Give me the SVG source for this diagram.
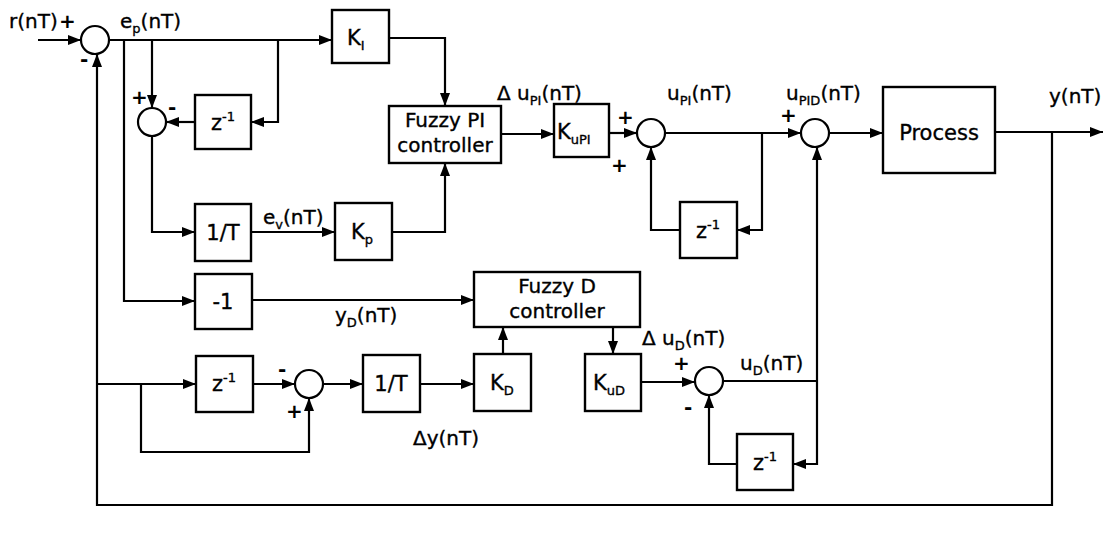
<svg xmlns="http://www.w3.org/2000/svg" width="1110" height="537" viewBox="0 0 1110 537">
<style>
.b{fill:#fff;stroke:#000;stroke-width:2.4}
.s{fill:#fff;stroke:#000;stroke-width:2.2}
.w{fill:none;stroke:#000;stroke-width:2.2}
.t{font-family:"DejaVu Sans",Verdana,sans-serif;font-size:20px;fill:#000;stroke:#000;stroke-width:0.35}
.bl{font-size:21px}
.c{text-anchor:middle}
.sub{font-size:13px}
.pm{font-family:"DejaVu Sans",Verdana,sans-serif;font-size:20px;font-weight:bold;fill:#000}
</style>
<defs>
<marker id="a" markerWidth="13" markerHeight="10" refX="13" refY="5" orient="auto" markerUnits="userSpaceOnUse"><path d="M0,0 L13,5 L0,10 z" fill="#000"/></marker>
</defs>
<rect width="1110" height="537" fill="#fff"/>
<g id="connectors" class="w">
<path d="M38,40 H81" marker-end="url(#a)"/>
<path d="M109,40 H332" marker-end="url(#a)"/>
<path d="M152,40 V108" marker-end="url(#a)"/>
<path d="M278,40 V122 H251" marker-end="url(#a)"/>
<path d="M195,122 H166" marker-end="url(#a)"/>
<path d="M152,136 V232 H195" marker-end="url(#a)"/>
<path d="M251,232 H335" marker-end="url(#a)"/>
<path d="M392,232 H445 V163" marker-end="url(#a)"/>
<path d="M389,38 H445 V106" marker-end="url(#a)"/>
<path d="M501,134 H554" marker-end="url(#a)"/>
<path d="M609,133 H637" marker-end="url(#a)"/>
<path d="M665,133 H801" marker-end="url(#a)"/>
<path d="M762,133 V230 H737" marker-end="url(#a)"/>
<path d="M680,230 H651 V147" marker-end="url(#a)"/>
<path d="M829,133 H883" marker-end="url(#a)"/>
<path d="M995,132 H1103" marker-end="url(#a)"/>
<path d="M1052,132 V505 H97 V54" marker-end="url(#a)"/>
<path d="M124,40 V301 H195" marker-end="url(#a)"/>
<path d="M252,300 H474" marker-end="url(#a)"/>
<path d="M97,384 H196" marker-end="url(#a)"/>
<path d="M141,384 V452 H309 V398" marker-end="url(#a)"/>
<path d="M253,384 H295" marker-end="url(#a)"/>
<path d="M323,384 H363" marker-end="url(#a)"/>
<path d="M420,384 H474" marker-end="url(#a)"/>
<path d="M503,354 V327" marker-end="url(#a)"/>
<path d="M613,327 V354" marker-end="url(#a)"/>
<path d="M641,382 H695" marker-end="url(#a)"/>
<path d="M723,381 H817"/>
<path d="M817,381 V147" marker-end="url(#a)"/>
<path d="M817,381 V464 H793" marker-end="url(#a)"/>
<path d="M737,464 H709 V395" marker-end="url(#a)"/>
</g>
<g id="sum1"><circle class="s" cx="95" cy="40" r="14"/></g>
<g id="sum2"><circle class="s" cx="152" cy="122" r="14"/></g>
<g id="sum3"><circle class="s" cx="651" cy="133" r="14"/></g>
<g id="sum4"><circle class="s" cx="815" cy="133" r="14"/></g>
<g id="sum5"><circle class="s" cx="709" cy="381" r="14"/></g>
<g id="sum6"><circle class="s" cx="309" cy="384" r="14"/></g>
<g id="KI"><rect class="b" x="332" y="10" width="57" height="53"/><text class="t bl" x="347" y="45">K<tspan class="sub" dy="5">I</tspan></text></g>
<g id="z1"><rect class="b" x="195" y="95" width="56" height="54"/><text class="t bl c" x="223" y="130">z<tspan class="sub" dy="-9">-1</tspan></text></g>
<g id="invT1"><rect class="b" x="195" y="204" width="56" height="57"/><text class="t bl c" x="223" y="240">1/T</text></g>
<g id="Kp"><rect class="b" x="335" y="203" width="57" height="57"/><text class="t bl" x="351" y="239">K<tspan class="sub" dy="5">p</tspan></text></g>
<g id="neg1"><rect class="b" x="195" y="274" width="57" height="55"/><text class="t bl c" x="223" y="309">-1</text></g>
<g id="fuzzyPI"><rect class="b" x="389" y="106" width="112" height="57"/><text class="t c" x="445" y="127">Fuzzy PI</text><text class="t c" x="445" y="152">controller</text></g>
<g id="KuPI"><rect class="b" x="554" y="104" width="55" height="53"/><text class="t bl" x="557" y="139">K<tspan class="sub" dy="5">uPI</tspan></text></g>
<g id="z2"><rect class="b" x="680" y="202" width="57" height="56"/><text class="t bl c" x="708" y="238">z<tspan class="sub" dy="-9">-1</tspan></text></g>
<g id="process"><rect class="b" x="883" y="87" width="112" height="86"/><text class="t bl c" x="939" y="140">Process</text></g>
<g id="fuzzyD"><rect class="b" x="474" y="272" width="166" height="55"/><text class="t c" x="557" y="293">Fuzzy D</text><text class="t c" x="557" y="318">controller</text></g>
<g id="z3"><rect class="b" x="196" y="356" width="57" height="56"/><text class="t bl c" x="224" y="391">z<tspan class="sub" dy="-9">-1</tspan></text></g>
<g id="invT2"><rect class="b" x="363" y="355" width="57" height="57"/><text class="t bl c" x="391" y="391">1/T</text></g>
<g id="KD"><rect class="b" x="474" y="354" width="57" height="57"/><text class="t bl" x="490" y="390">K<tspan class="sub" dy="5">D</tspan></text></g>
<g id="KuD"><rect class="b" x="585" y="354" width="56" height="57"/><text class="t bl" x="593" y="390">K<tspan class="sub" dy="5">uD</tspan></text></g>
<g id="z4"><rect class="b" x="737" y="434" width="56" height="56"/><text class="t bl c" x="765" y="470">z<tspan class="sub" dy="-9">-1</tspan></text></g>
<g id="labels">
<text class="t" x="9" y="28">r(nT)</text>
<text class="pm" x="59" y="28">+</text>
<text class="pm" x="80" y="66">-</text>
<text class="t" x="120" y="28">e<tspan class="sub" dy="5">p</tspan><tspan dy="-5">(nT)</tspan></text>
<text class="pm" x="131" y="104">+</text>
<text class="pm" x="168" y="114">-</text>
<text class="t" x="263" y="224">e<tspan class="sub" dy="5">v</tspan><tspan dy="-5">(nT)</tspan></text>
<text class="t" x="497" y="100">Δ u<tspan class="sub" dy="5">PI</tspan><tspan dy="-5">(nT)</tspan></text>
<text class="pm" x="617" y="124">+</text>
<text class="pm" x="611" y="172">+</text>
<text class="t" x="667" y="100">u<tspan class="sub" dy="5">PI</tspan><tspan dy="-5">(nT)</tspan></text>
<text class="t" x="786" y="100">u<tspan class="sub" dy="5">PID</tspan><tspan dy="-5">(nT)</tspan></text>
<text class="pm" x="780" y="122">+</text>
<text class="t" x="1049" y="103">y(nT)</text>
<text class="t" x="335" y="322">y<tspan class="sub" dy="5">D</tspan><tspan dy="-5">(nT)</tspan></text>
<text class="t" x="642" y="345">Δ u<tspan class="sub" dy="5">D</tspan><tspan dy="-5">(nT)</tspan></text>
<text class="pm" x="673" y="370">+</text>
<text class="t" x="740" y="370">u<tspan class="sub" dy="5">D</tspan><tspan dy="-5">(nT)</tspan></text>
<text class="pm" x="684" y="414">-</text>
<text class="pm" x="278" y="376">-</text>
<text class="pm" x="286" y="418">+</text>
<text class="t" x="413" y="445">Δy(nT)</text>
</g>
</svg>
